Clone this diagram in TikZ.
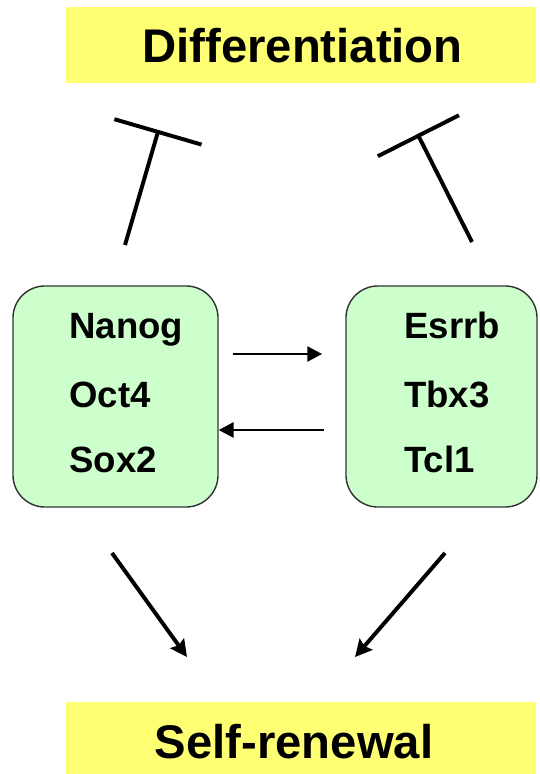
\documentclass[tikz,border=0pt]{standalone}
\usepackage{fontspec}
\setmainfont{Liberation Sans}
\usetikzlibrary{arrows.meta}

\definecolor{bannerYellow}{RGB}{255,255,115}
\definecolor{boxGreen}{RGB}{204,255,204}

\tikzset{
	banner/.style={fill=bannerYellow,inner sep=0pt,minimum width=11.75cm},
	bannertext/.style={anchor=base,inner sep=0pt,font=\fontsize{33.6pt}{38pt}\selectfont\bfseries},
	factorbox/.style={draw=black!80,line width=1pt,fill=boxGreen,rounded corners=0.8cm,minimum height=5.525cm},
	gene/.style={anchor=base west,inner sep=0pt,font=\fontsize{26pt}{30pt}\selectfont\bfseries},
	feedback/.style={line width=1.4pt,-{Triangle[length=0.37cm,width=0.38cm]}},
	promote/.style={line width=2.8pt,-{Stealth[length=0.42cm,width=0.42cm,inset=0.06cm]}},
	inhibit/.style={line width=2.8pt,-{Bar[width=2.27cm]}}
}

\begin{document}
\begin{tikzpicture}[x=0.025cm,y=-0.025cm]
	\useasboundingbox (0,0) rectangle (539,774);

	% outcomes
	\node[banner,minimum height=1.9cm] (diffbar) at (301,45) {};
	\node[bannertext] (diff) at (302.5,63) {Differentiation};
	\node[banner,minimum height=1.8cm] (selfbar) at (301,738) {};
	\node[bannertext] (self) at (294,758) {Self-renewal};

	% the two groups of factors
	\node[factorbox,minimum width=5.125cm] (core) at (115.5,396.5) {};
	\node[factorbox,minimum width=4.775cm] (aux) at (441.5,396.5) {};
	\node[gene] (nanog) at (69,338) {Nanog};
	\node[gene] (oct) at (69,407) {Oct4};
	\node[gene] (sox) at (69,472) {Sox2};
	\node[gene] (esrrb) at (404,338) {Esrrb};
	\node[gene] (tbx) at (404,407) {Tbx3};
	\node[gene] (tcl) at (404,472) {Tcl1};

	% mutual activation
	\draw[feedback,shorten <=0.35cm,shorten >=0.58cm] (core.east |- 0,354) -- (aux.west |- 0,354);
	\draw[feedback,shorten <=0.53cm] (aux.west |- 0,430) -- (core.east |- 0,430);

	% block differentiation
	\coordinate (coreup) at (125,245);
	\coordinate (corebar) at (158.5,130);
	\coordinate (auxup) at (472,242);
	\coordinate (auxbar) at (417.5,134);
	\draw[inhibit] (coreup) -- (corebar);
	\draw[inhibit] (auxup) -- (auxbar);

	% drive self-renewal
	\coordinate (coredown) at (112,553);
	\coordinate (coretip) at (187,657);
	\coordinate (auxdown) at (445,553);
	\coordinate (auxtip) at (355,657);
	\draw[promote] (coredown) -- (coretip);
	\draw[promote] (auxdown) -- (auxtip);
\end{tikzpicture}
\end{document}
